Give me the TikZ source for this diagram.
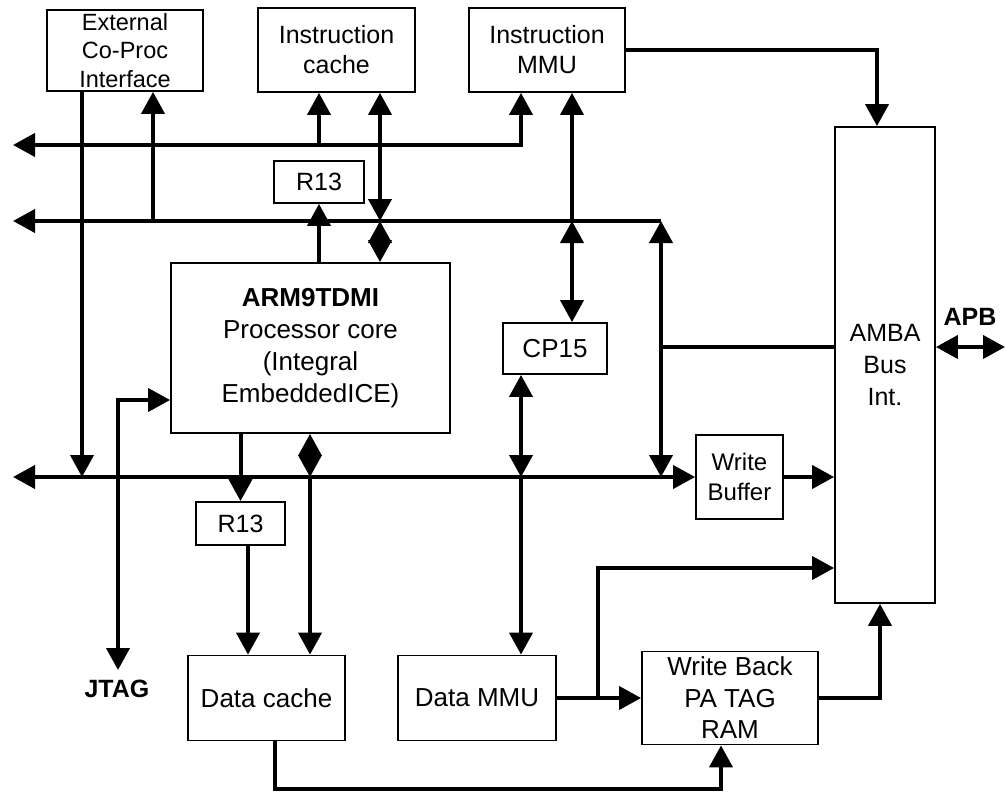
\documentclass[tikz,border=0pt]{standalone}
\usepackage{fontspec}
\setmainfont{Liberation Sans}
\usetikzlibrary{arrows.meta}
\begin{document}
\begin{tikzpicture}[x=1pt,y=-1pt,
  >={Triangle[length=22pt,width=23pt]},
  box/.style={draw, line width=1.8pt, inner sep=0pt, align=center, font=\fontsize{25}{31}\selectfont},
  conn/.style={line width=4pt},
  lbl/.style={font=\fontsize{25}{30}\selectfont\bfseries, inner sep=0pt}]
\useasboundingbox (0,0) rectangle (1006,792);

% boxes
\node[box, minimum width=156pt, minimum height=81pt, font=\fontsize{23.5}{28.5}\selectfont] (ext) at (125,50.5) {External\\Co-Proc\\Interface};
\node[box, minimum width=157pt, minimum height=84pt, font=\fontsize{25}{30}\selectfont] (icache) at (336.5,50) {Instruction\\cache};
\node[box, minimum width=156pt, minimum height=84pt, font=\fontsize{25}{30}\selectfont] (immu) at (547,50) {Instruction\\MMU};
\node[box, minimum width=90pt, minimum height=42pt] (r13a) at (319,182) {R13};
\node[box, minimum width=279pt, minimum height=170pt, font=\fontsize{26}{32}\selectfont] (arm) at (310.5,348) {\textbf{ARM9TDMI}\\Processor core\\(Integral\\EmbeddedICE)};
\node[box, minimum width=104pt, minimum height=51pt, font=\fontsize{26}{31}\selectfont] (cp15) at (555,348.5) {CP15};
\node[box, minimum width=87pt, minimum height=84pt, font=\fontsize{24}{30}\selectfont] (wbuf) at (739.5,477) {Write\\Buffer};
\node[box, minimum width=100pt, minimum height=476pt, font=\fontsize{25}{32}\selectfont] (amba) at (885,365) {AMBA\\Bus\\Int.};
\node[box, minimum width=89pt, minimum height=43pt] (r13b) at (240.5,523.5) {R13};
\node[box, minimum width=157pt, minimum height=85pt, font=\fontsize{26}{31}\selectfont] (dcache) at (266.5,698) {Data cache};
\node[box, minimum width=158pt, minimum height=85pt, font=\fontsize{26}{31}\selectfont] (dmmu) at (477,698) {Data MMU};
\node[box, minimum width=176pt, minimum height=93pt, font=\fontsize{26}{31.5}\selectfont] (wb) at (730,698) {Write Back\\PA TAG\\RAM};

% labels
\node[lbl] (jtag) at (117,689) {JTAG};
\node[lbl] (apbl) at (970,317) {APB};

% bus coordinates
\coordinate (b1L) at (13,145);
\coordinate (b1R) at (521,145);
\coordinate (b2L) at (13,221);
\coordinate (b2R) at (661,221);
\coordinate (b3L) at (13,477);
\coordinate (j82) at (82,477);
\coordinate (j153) at (153,221);
\coordinate (c380) at (380,221);
\coordinate (j572) at (572,221);
\coordinate (j521) at (521,477);
\coordinate (j661) at (661,477);
\coordinate (j347) at (661,347);
\coordinate (j310) at (310,477);
\coordinate (jt) at (118,400);
\coordinate (jtagtip) at (118,670);
\coordinate (apb) at (1005,347);
\coordinate (j598) at (598,698);
\coordinate (m568) at (598,568);
\coordinate (d1) at (275,789);
\coordinate (d2) at (721,789);

% bus 1
\draw[conn,<->] (b1L) -- (b1R) -- (b1R |- immu.south);
\draw[conn,->] (b1L -| r13a) -- (icache.south -| r13a);
% bus 2
\draw[conn,->] (b2R) -- (b2L);
\draw[conn,->] (j153) -- (ext.south -| j153);
\draw[conn,<->] (icache.south -| c380) -- (c380);
\draw[conn,<->] (c380) -- (arm.north -| c380);
\draw[conn,->] (arm.north -| r13a) -- (r13a.south);
\draw[conn,->] (j572) -- (immu.south -| j572);
\draw[conn,<->] (j572) -- (cp15.north -| j572);
% bus 3
\draw[conn,<->] (b3L) -- (wbuf.west);
\draw[conn,->] (ext.south -| j82) -- (j82);
\draw[conn,<->] (j661) -- (b2R);
\draw[conn] (j347) -- (j347 -| amba.west);
\draw[conn,<->] (cp15.south -| j521) -- (j521);
\draw[conn,->] (j521) -- (dmmu.north -| j521);
\draw[conn,<->] (arm.south -| j310) -- (j310);
\draw[conn,->] (j310) -- (dcache.north -| j310);
\draw[conn,->] (arm.south -| r13b) -- (r13b.north);
\draw[conn,->] ([xshift=7.5pt]r13b.south) -- ([xshift=7.5pt]r13b.south |- dcache.north);
\draw[conn,<->] (jtagtip) -- (jt) -- (jt -| arm.west);
% right side
\draw[conn,->] (wbuf.east) -- (wbuf.east -| amba.west);
\draw[conn,->] (immu.east) -| ([xshift=-8pt]amba.north);
\draw[conn,<->] (amba.east |- apb) -- (apb);
\draw[conn,->] (dmmu.east) -- (wb.west);
\draw[conn,->] (j598) -- (m568) -- (m568 -| amba.west);
\draw[conn,->] (wb.east) -| ([xshift=-5pt]amba.south);
\draw[conn,->] (dcache.south -| d1) -- (d1) -- (d2) -- (wb.south -| d2);
\end{tikzpicture}
\end{document}
